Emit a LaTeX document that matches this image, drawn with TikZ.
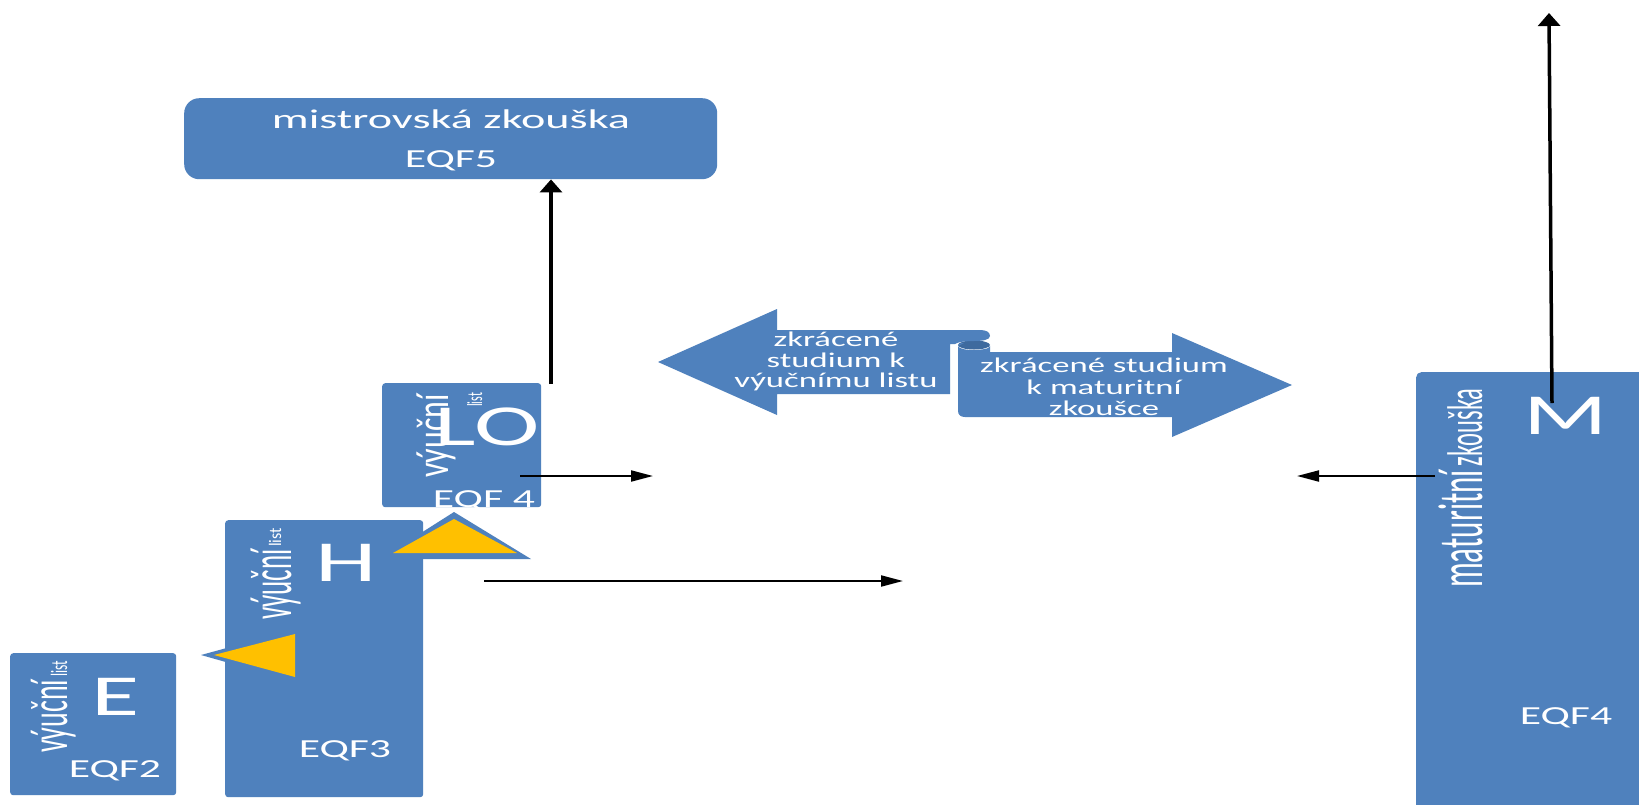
\documentclass[tikz,border=0pt]{standalone}
\usepackage{fontspec}
\setmainfont{Carlito}
\usetikzlibrary{arrows.meta}
\definecolor{boxblue}{HTML}{4F81BD}
\definecolor{curlblue}{HTML}{3E6A9E}
\definecolor{gold}{HTML}{FFC000}
\newcommand{\hx}[2][1.68]{\scalebox{#1}[1]{#2}}
\newcommand{\vx}[2][1.9]{\scalebox{1}[#1]{#2}}
\begin{document}
\begin{tikzpicture}[x=1pt,y=-1pt,
  box/.style={fill=boxblue, inner sep=0pt, anchor=north west, rounded corners=3pt},
  wt/.style={text=white, inner sep=0pt},
  big/.style={wt, font=\fontsize{58}{58}\selectfont},
  eqf/.style={wt, anchor=base, font=\fontsize{26}{26}\selectfont},
  vt/.style={wt, rotate=90, anchor=base west},
  thinarr/.style={draw=black, line width=2pt, -{Triangle[length=22pt,width=11pt]}},
  thickarr/.style={draw=black, line width=3.5pt, -{Triangle[length=13pt,width=22pt]}},
]
\clip (0,0) rectangle (1639,804);
\fill[white] (0,0) rectangle (1639,804);

% boxes
\node[box, minimum width=533pt, minimum height=81pt, rounded corners=15pt] (eqf5box) at (184,98) {};
\node[box, minimum width=166pt, minimum height=142pt] (ebox) at (10,653) {};
\node[box, minimum width=198pt, minimum height=277pt] (hbox) at (225,520) {};
\node[box, minimum width=159pt, minimum height=124pt] (lobox) at (382,383) {};
\node[box, minimum width=240pt, minimum height=440pt, rounded corners=5pt] (mbox) at (1416,372) {};

% yellow triangles
\fill[boxblue] (201,655) -- (300,628) -- (300,683) -- cycle;
\fill[gold] (214,655) -- (295,634) -- (295,677) -- cycle;
\fill[boxblue] (454,512) -- (380,559) -- (531,559) -- cycle;
\fill[gold] (454,519) -- (393,553) -- (517,553) -- cycle;

% ribbon (left-right arrows)
\fill[curlblue] (974,345) ellipse [x radius=16, y radius=4.5];
\fill[boxblue] (958,346) .. controls (958,344) and (960,343) .. (964,343) -- (958,346) -- (958,411) .. controls (958,415) and (961,417) .. (965,417) -- (1172,417) -- (1172,437) -- (1292,385) -- (1172,333) -- (1172,352) -- (990,352) -- (990,346) .. controls (990,349) and (980,350) .. (974,350) .. controls (966,350) and (959,349) .. (958,346) -- cycle;
\fill[boxblue] (658,362) -- (777,309) -- (777,330) -- (980,330) .. controls (986,330) and (990,332) .. (990,336) .. controls (990,340) and (982,341) .. (974,341) .. controls (965,341) and (958,342) .. (955,344) -- (950,344) -- (950,394) -- (777,394) -- (777,415) -- cycle;

% texts
\node[wt, anchor=base, font=\fontsize{27}{27}\selectfont] (t5) at (451,128) {\hx[1.71]{mistrovská zkouška}};
\node[eqf] (q5) at (451,167) {\hx{EQF5}};
\node[eqf] (q2) at (115,777) {\hx{EQF2}};
\node[eqf] (q3) at (345,757) {\hx{EQF3}};
\node[eqf] (q4a) at (484,507) {\hx{EQF 4}};
\node[eqf] (q4b) at (1566,724) {\hx{EQF4}};

\node[big] (lE) at (116,697) {\hx[1.7]{E}};
\node[big] (lH) at (346,563) {\hx[1.7]{H}};
\node[big] (lLO) at (487,427) {\hx[1.7]{LO}};
\node[big] (lM) at (1566,416) {\hx[1.7]{M}};

\node[vt, font=\fontsize{28}{28}\selectfont] (vE) at (67,753) {\vx{výuční}};
\node[vt, font=\fontsize{13.5}{13.5}\selectfont] (sE) at (67,677) {\vx[1.74]{list}};
\node[vt, font=\fontsize{27}{27}\selectfont] (vH) at (291,620) {\vx[2.2]{výuční}};
\node[vt, font=\fontsize{16}{16}\selectfont] (sH) at (281,547) {\vx[1.1]{list}};
\node[vt, font=\fontsize{32}{32}\selectfont] (vLO) at (448,478) {\vx[1.45]{výuční}};
\node[vt, font=\fontsize{12}{12}\selectfont] (sLO) at (482,407) {\vx[1.8]{list}};
\node[vt, font=\fontsize{31}{31}\selectfont] (vM) at (1482,588) {\vx[2.05]{maturitní\hspace{4pt}{\fontsize{24.5}{24.5}\selectfont zkouška}}};

\node[wt, font=\fontsize{21}{20}\selectfont] (tL) at (836,363) {\hx[1.65]{\begin{tabular}{@{}c@{}}zkrácené\\studium k\\výučnímu listu\end{tabular}}};
\node[wt, font=\fontsize{21}{21.5}\selectfont] (tR) at (1104,390) {\hx[1.65]{\begin{tabular}{@{}c@{}}zkrácené studium\\k maturitní\\zkoušce\end{tabular}}};

% connectors
\coordinate (upS) at (551,384);
\draw[thickarr] (upS) -- (upS |- eqf5box.south);
\coordinate (mUpS) at (1552,403);
\coordinate (mUpE) at (1549,13);
\draw[thickarr] (mUpS) -- (mUpE);
\coordinate (loS) at (520,476);
\coordinate (loE) at (653,476);
\draw[thinarr] (loS) -- (loE);
\coordinate (hS) at (484,581);
\coordinate (hE) at (903,581);
\draw[thinarr] (hS) -- (hE);
\coordinate (mS) at (1435,476);
\coordinate (mE) at (1297,476);
\draw[thinarr] (mS) -- (mE);
\end{tikzpicture}
\end{document}
